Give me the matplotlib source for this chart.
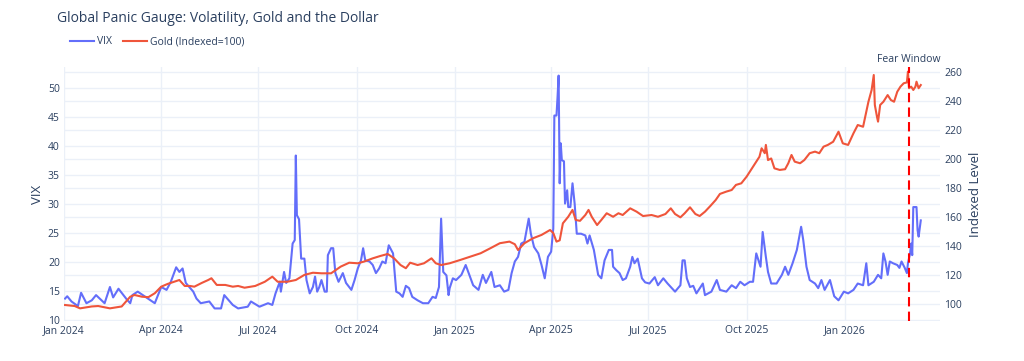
import matplotlib
matplotlib.use('Agg')
import matplotlib.pyplot as plt
import matplotlib.dates as mdates
import matplotlib.transforms as mtransforms
import pandas as pd

# VIX
vix_dates = [
    "2024-01-02", "2024-01-04", "2024-01-08", "2024-01-14", "2024-01-17", "2024-01-22", "2024-01-27",
    "2024-01-31", "2024-02-08", "2024-02-13", "2024-02-16", "2024-02-21", "2024-02-29", "2024-03-03",
    "2024-03-05", "2024-03-10", "2024-03-18", "2024-03-26", "2024-04-01", "2024-04-06", "2024-04-10",
    "2024-04-15", "2024-04-18", "2024-04-21", "2024-04-24", "2024-05-01", "2024-05-04", "2024-05-08",
    "2024-05-16", "2024-05-21", "2024-05-27", "2024-05-30", "2024-06-07", "2024-06-12", "2024-06-21",
    "2024-06-24", "2024-07-02", "2024-07-10", "2024-07-14", "2024-07-17", "2024-07-21", "2024-07-22",
    "2024-07-25", "2024-07-27", "2024-07-30", "2024-08-02", "2024-08-04", "2024-08-05", "2024-08-06",
    "2024-08-08", "2024-08-10", "2024-08-13", "2024-08-15", "2024-08-18", "2024-08-21", "2024-08-23",
    "2024-08-25", "2024-08-27", "2024-08-29", "2024-09-01", "2024-09-03", "2024-09-04", "2024-09-07",
    "2024-09-09", "2024-09-11", "2024-09-14", "2024-09-18", "2024-09-21", "2024-09-26", "2024-09-29",
    "2024-10-02", "2024-10-05", "2024-10-07", "2024-10-09", "2024-10-13", "2024-10-16", "2024-10-19",
    "2024-10-22", "2024-10-25", "2024-10-28", "2024-10-31", "2024-11-04", "2024-11-07", "2024-11-10",
    "2024-11-13", "2024-11-16", "2024-11-19", "2024-11-22", "2024-11-27", "2024-12-02", "2024-12-07",
    "2024-12-11", "2024-12-14", "2024-12-17", "2024-12-19", "2024-12-21", "2024-12-24", "2024-12-26",
    "2024-12-27", "2024-12-30", "2025-01-02", "2025-01-07", "2025-01-11", "2025-01-15", "2025-01-18",
    "2025-01-23", "2025-01-27", "2025-01-30", "2025-02-04", "2025-02-07", "2025-02-12", "2025-02-16",
    "2025-02-20", "2025-02-23", "2025-02-26", "2025-03-01", "2025-03-04", "2025-03-07", "2025-03-11",
    "2025-03-13", "2025-03-16", "2025-03-20", "2025-03-23", "2025-03-26", "2025-03-29", "2025-04-01",
    "2025-04-03", "2025-04-04", "2025-04-06", "2025-04-07", "2025-04-08", "2025-04-09", "2025-04-10",
    "2025-04-11", "2025-04-13", "2025-04-14", "2025-04-16", "2025-04-17", "2025-04-19", "2025-04-21",
    "2025-04-23", "2025-04-25", "2025-04-29", "2025-05-03", "2025-05-05", "2025-05-07", "2025-05-11",
    "2025-05-15", "2025-05-18", "2025-05-21", "2025-05-25", "2025-05-28", "2025-05-29", "2025-06-01",
    "2025-06-04", "2025-06-07", "2025-06-10", "2025-06-14", "2025-06-16", "2025-06-18", "2025-06-21",
    "2025-06-25", "2025-06-28", "2025-07-02", "2025-07-07", "2025-07-10", "2025-07-15", "2025-07-19",
    "2025-07-26", "2025-07-31", "2025-08-02", "2025-08-04", "2025-08-06", "2025-08-09", "2025-08-12",
    "2025-08-15", "2025-08-21", "2025-08-23", "2025-08-29", "2025-09-03", "2025-09-06", "2025-09-12",
    "2025-09-17", "2025-09-21", "2025-09-25", "2025-09-29", "2025-10-04", "2025-10-07", "2025-10-10",
    "2025-10-14", "2025-10-16", "2025-10-19", "2025-10-21", "2025-10-24", "2025-10-29", "2025-11-03",
    "2025-11-06", "2025-11-09", "2025-11-13", "2025-11-17", "2025-11-19", "2025-11-21", "2025-11-23",
    "2025-11-26", "2025-11-29", "2025-12-04", "2025-12-07", "2025-12-10", "2025-12-13", "2025-12-18",
    "2025-12-22", "2025-12-26", "2025-12-31", "2026-01-04", "2026-01-09", "2026-01-13", "2026-01-18",
    "2026-01-21", "2026-01-23", "2026-01-28", "2026-02-01", "2026-02-04", "2026-02-06", "2026-02-08",
    "2026-02-10", "2026-02-12", "2026-02-15", "2026-02-19", "2026-02-21", "2026-02-23", "2026-02-26",
    "2026-02-28", "2026-03-01", "2026-03-03", "2026-03-04", "2026-03-05", "2026-03-06", "2026-03-09",
    "2026-03-10", "2026-03-11", "2026-03-13",
]
vix_values = [
    13.7, 14.1, 13.2, 12.4, 14.7, 12.9, 13.4,
    14.3, 12.9, 15.7, 13.9, 15.4, 13.5, 12.9,
    14.3, 14.9, 13.9, 12.9, 15.7, 15.2, 16.6,
    19.1, 18.3, 18.9, 16.4, 14.9, 13.7, 12.9,
    13.2, 12.0, 12.0, 14.3, 12.6, 12.0, 12.3,
    13.2, 12.3, 12.9, 12.6, 14.6, 16.6, 14.9,
    18.3, 16.4, 17.2, 23.2, 23.8, 38.4, 28.1,
    27.4, 20.6, 20.6, 16.9, 14.6, 15.7, 17.5,
    14.9, 15.7, 16.9, 14.9, 14.9, 21.2, 22.4,
    22.4, 18.1, 16.6, 18.1, 16.4, 15.2, 16.9,
    18.9, 20.3, 22.4, 20.3, 20.1, 19.5, 18.1,
    18.9, 20.1, 19.8, 22.9, 21.5, 14.9, 14.6,
    14.0, 15.9, 15.5, 14.0, 13.4, 12.9, 12.9,
    14.0, 13.8, 15.7, 27.5, 18.3, 17.7, 14.3,
    15.5, 17.2, 16.9, 17.8, 19.5, 17.5, 16.0,
    15.2, 17.8, 16.4, 18.3, 15.7, 16.0, 14.9,
    15.2, 18.1, 20.1, 20.9, 23.2, 23.5, 27.5,
    24.9, 22.6, 21.5, 19.5, 17.2, 20.9, 21.8,
    25.8, 45.3, 45.3, 48.5, 52.2, 33.6, 40.5,
    37.6, 37.4, 30.1, 32.4, 29.5, 29.5, 33.6,
    30.1, 24.9, 24.9, 24.6, 23.2, 24.6, 22.1,
    17.8, 17.2, 20.3, 22.1, 22.1, 19.2, 18.6,
    18.1, 16.9, 17.2, 19.2, 20.9, 19.8, 20.6,
    17.2, 16.5, 16.3, 17.4, 16.0, 17.2, 16.3,
    14.9, 16.0, 20.3, 20.3, 17.2, 15.7, 15.9,
    14.6, 16.3, 14.3, 14.9, 16.9, 15.2, 14.9,
    16.0, 15.5, 16.6, 16.0, 16.6, 16.6, 21.5,
    19.2, 25.2, 20.9, 18.3, 16.3, 16.3, 17.8,
    19.2, 17.8, 19.8, 22.1, 24.1, 26.1, 23.8,
    19.2, 16.9, 16.3, 15.5, 16.9, 15.2, 16.9,
    14.1, 13.4, 14.9, 14.6, 15.2, 16.3, 16.0,
    19.8, 16.0, 16.6, 17.8, 17.2, 21.5, 20.1,
    17.8, 20.1, 19.8, 19.5, 19.0, 20.1, 19.0,
    18.1, 19.8, 21.5, 23.2, 21.2, 29.5, 29.5,
    25.5, 24.4, 27.2,
]

# gold, indexed to 100 at the start
gold_dates = [
    "2024-01-02", "2024-01-11", "2024-01-16", "2024-01-27", "2024-02-02", "2024-02-13", "2024-02-24",
    "2024-03-03", "2024-03-07", "2024-03-14", "2024-03-20", "2024-03-26", "2024-04-01", "2024-04-07",
    "2024-04-13", "2024-04-18", "2024-04-23", "2024-04-28", "2024-05-02", "2024-05-09", "2024-05-15",
    "2024-05-18", "2024-05-23", "2024-05-31", "2024-06-07", "2024-06-12", "2024-06-18", "2024-06-28",
    "2024-07-07", "2024-07-14", "2024-07-19", "2024-07-28", "2024-08-05", "2024-08-13", "2024-08-21",
    "2024-08-29", "2024-09-07", "2024-09-16", "2024-09-24", "2024-10-02", "2024-10-08", "2024-10-16",
    "2024-10-23", "2024-10-30", "2024-11-05", "2024-11-11", "2024-11-16", "2024-11-20", "2024-11-27",
    "2024-12-03", "2024-12-10", "2024-12-14", "2024-12-19", "2024-12-27", "2025-01-06", "2025-01-15",
    "2025-01-25", "2025-02-03", "2025-02-12", "2025-02-21", "2025-02-26", "2025-03-01", "2025-03-07",
    "2025-03-15", "2025-03-23", "2025-03-31", "2025-04-03", "2025-04-06", "2025-04-09", "2025-04-12",
    "2025-04-17", "2025-04-21", "2025-04-24", "2025-04-28", "2025-05-03", "2025-05-06", "2025-05-09",
    "2025-05-14", "2025-05-18", "2025-05-23", "2025-05-29", "2025-06-03", "2025-06-07", "2025-06-14",
    "2025-06-20", "2025-06-26", "2025-07-04", "2025-07-10", "2025-07-17", "2025-07-22", "2025-07-26",
    "2025-07-31", "2025-08-04", "2025-08-09", "2025-08-14", "2025-08-18", "2025-08-23", "2025-08-28",
    "2025-09-02", "2025-09-06", "2025-09-12", "2025-09-17", "2025-09-21", "2025-09-26", "2025-10-01",
    "2025-10-05", "2025-10-08", "2025-10-13", "2025-10-15", "2025-10-18", "2025-10-19", "2025-10-21",
    "2025-10-24", "2025-10-27", "2025-11-01", "2025-11-06", "2025-11-09", "2025-11-12", "2025-11-15",
    "2025-11-20", "2025-11-24", "2025-11-29", "2025-12-04", "2025-12-08", "2025-12-12", "2025-12-16",
    "2025-12-21", "2025-12-26", "2025-12-30", "2026-01-04", "2026-01-09", "2026-01-13", "2026-01-18",
    "2026-01-20", "2026-01-23", "2026-01-26", "2026-01-28", "2026-01-29", "2026-01-31", "2026-02-01",
    "2026-02-03", "2026-02-06", "2026-02-10", "2026-02-13", "2026-02-16", "2026-02-19", "2026-02-22",
    "2026-02-25", "2026-02-28", "2026-03-01", "2026-03-02", "2026-03-04", "2026-03-06", "2026-03-08",
    "2026-03-09", "2026-03-11", "2026-03-13",
]
gold_values = [
    99.5, 98.8, 97.2, 98.5, 98.8, 97.2, 98.5,
    105.2, 106.4, 105.2, 104.9, 107.6, 112.1, 114.0,
    115.5, 116.7, 112.6, 112.6, 112.1, 114.7, 116.7,
    117.9, 113.3, 113.3, 112.1, 112.6, 111.4, 112.6,
    115.5, 119.0, 115.5, 115.5, 116.7, 120.2, 121.7,
    121.3, 121.3, 125.9, 128.6, 128.2, 129.4, 131.6,
    133.2, 134.6, 131.6, 127.0, 124.8, 128.6, 127.0,
    128.2, 131.6, 128.2, 127.0, 128.2, 130.5, 132.7,
    135.1, 138.5, 142.0, 143.1, 141.3, 137.3, 142.0,
    145.4, 147.7, 151.1, 149.0, 143.1, 144.0, 155.7,
    160.2, 164.9, 158.0, 157.4, 161.4, 164.9, 160.2,
    154.5, 158.0, 162.6, 160.2, 162.6, 161.4, 166.0,
    163.7, 160.7, 161.4, 160.2, 162.1, 166.0, 162.1,
    159.8, 162.6, 166.7, 162.1, 160.7, 163.7, 167.6,
    171.7, 175.9, 177.5, 178.6, 182.1, 183.2, 187.8,
    192.4, 195.8, 201.5, 207.3, 203.9, 209.6, 199.2,
    200.3, 193.5, 192.4, 192.9, 197.0, 202.7, 198.1,
    197.0, 199.2, 203.9, 205.0, 203.9, 208.4, 209.6,
    211.8, 218.7, 210.7, 209.6, 217.6, 223.3, 222.1,
    229.0, 239.3, 247.4, 257.7, 237.1, 229.0, 225.6,
    237.1, 239.3, 243.9, 240.5, 239.3, 246.2, 249.7,
    252.0, 252.6, 260.0, 248.6, 249.7, 247.4, 249.7,
    253.1, 248.6, 250.8,
]

fear_date = "2026-03-02"
x_range = ["2024-01-01", "2026-03-31"]

TXT = '#2a3f5f'
GRID = '#ebf0f8'
plt.rcParams['font.family'] = ['Open Sans', 'DejaVu Sans']

vix_x = pd.to_datetime(vix_dates)
gold_x = pd.to_datetime(gold_dates)
fear_x = pd.to_datetime(fear_date)

fig = plt.figure(figsize=(10.24, 3.61), dpi=100)
pos = [64 / 1024, 1 - 321 / 361, (940 - 64) / 1024, (321 - 67) / 361]

# three stacked axes so every grid line stays under both traces
ax_bg = fig.add_axes(pos)
ax = fig.add_axes(pos, sharex=ax_bg)
ax2 = fig.add_axes(pos, sharex=ax_bg)
ax.patch.set_visible(False)
ax2.patch.set_visible(False)

for a in (ax_bg, ax, ax2):
    for s in a.spines.values():
        s.set_visible(False)

ax_bg.set_ylim(88.5, 263.2)
ax_bg.set_yticks(range(100, 261, 20))
ax_bg.grid(axis='y', color=GRID, linewidth=1)
ax_bg.tick_params(left=False, labelleft=False, bottom=False, labelbottom=False)

ax.plot(vix_x, vix_values, color='#636efa', linewidth=1.5, label='VIX')
ax.set_ylim(9.83, 53.68)
ax.set_yticks(range(10, 51, 5))
ax.set_axisbelow(True)
ax.grid(True, color=GRID, linewidth=1)
ax.tick_params(length=0, pad=3, labelsize=7.5, labelcolor=TXT)
ax.set_ylabel('VIX', color=TXT, fontsize=9.5, labelpad=3)

ax2.plot(gold_x, gold_values, color='#ef553b', linewidth=1.5, label='Gold (Indexed=100)')
ax2.set_ylim(88.5, 263.2)
ax2.set_yticks(range(100, 261, 20))
ax2.yaxis.tick_right()
ax2.yaxis.set_label_position('right')
ax2.tick_params(length=0, pad=3, labelsize=7.5, labelcolor=TXT, bottom=False, labelbottom=False)
ax2.set_ylabel('Indexed Level', color=TXT, fontsize=9.5, labelpad=5)

ax2.axvline(fear_x, color='red', linewidth=1.5, linestyle=(0, (4.5, 2.5)))
trans = mtransforms.blended_transform_factory(ax2.transData, ax2.transAxes)
ax2.text(fear_x, 1.006, 'Fear Window', transform=trans, ha='center', va='bottom',
         fontsize=7.5, color=TXT)

ax.set_xlim(pd.to_datetime(x_range[0]), pd.to_datetime(x_range[1]))
ax.xaxis.set_major_locator(mdates.MonthLocator(bymonth=[1, 4, 7, 10]))
ax.xaxis.set_major_formatter(mdates.DateFormatter('%b %Y'))

fig.text(57 / 1024, 1 - 19 / 361, 'Global Panic Gauge: Volatility, Gold and the Dollar',
         ha='left', va='center', fontsize=10, color=TXT)

h1, l1 = ax.get_legend_handles_labels()
h2, l2 = ax2.get_legend_handles_labels()
fig.legend(h1 + h2, l1 + l2, loc='center left', bbox_to_anchor=(61 / 1024, 1 - 42 / 361),
           ncol=2, frameon=False, fontsize=7.5, handlelength=2.3, handletextpad=0.3,
           columnspacing=1.0, labelcolor=TXT)

fig.savefig('out.png', dpi=100)
